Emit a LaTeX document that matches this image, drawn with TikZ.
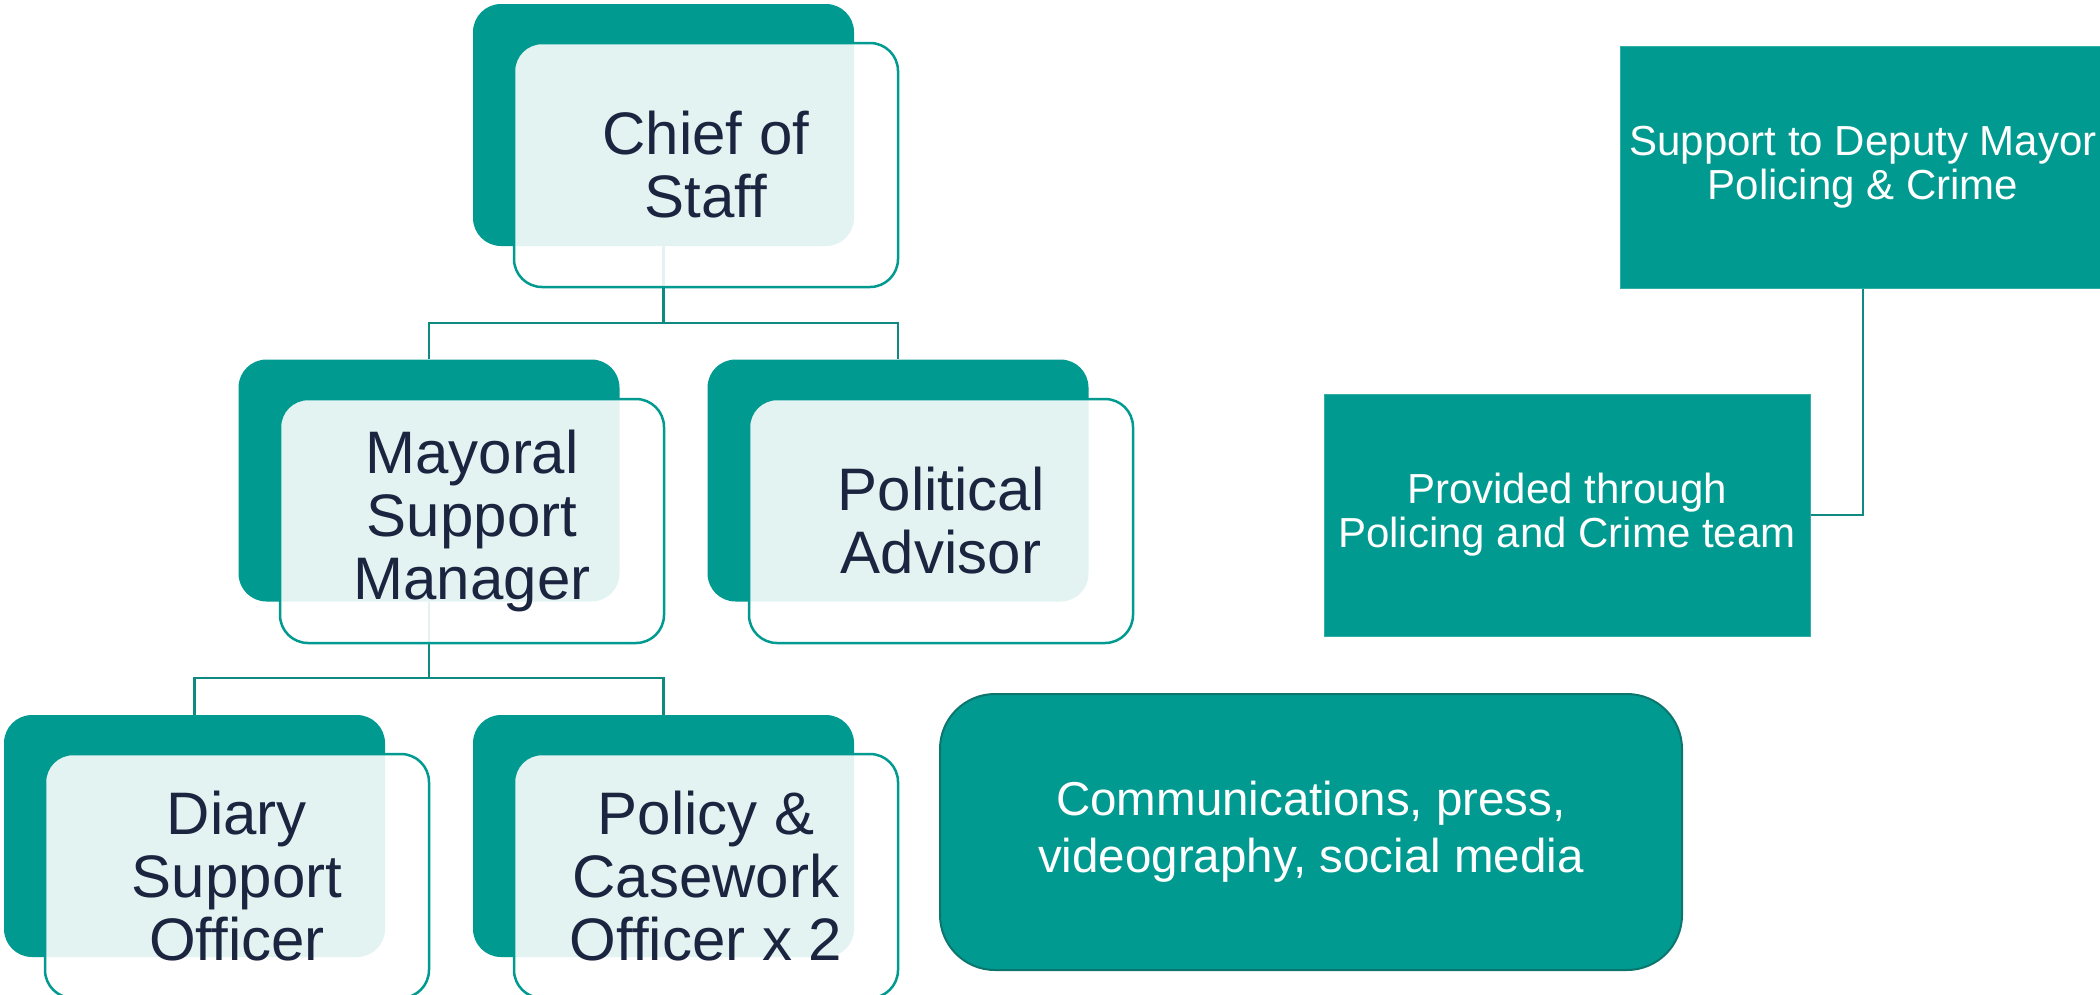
\documentclass[tikz,border=0pt]{standalone}
\usepackage{fontspec}
\setmainfont{Liberation Sans}
\definecolor{teal1}{RGB}{0,154,144}
\definecolor{tealline}{RGB}{14,138,128}
\definecolor{tealdark}{RGB}{12,118,110}
\definecolor{navy}{RGB}{27,37,64}
\begin{document}
\begin{tikzpicture}[x=1pt,y=-1pt,
  backbox/.style={rectangle,rounded corners=28pt,fill=teal1,minimum width=381pt,minimum height=242pt,inner sep=0pt},
  frontbox/.style={rectangle,rounded corners=28pt,draw=teal1,line width=2.5pt,fill=white,fill opacity=0.89,text opacity=1,
     text=navy,minimum width=384pt,minimum height=244pt,inner sep=0pt,align=center,font=\fontsize{60}{63}\selectfont},
  squarebox/.style={rectangle,fill=teal1,draw=teal1!80!white,line width=1pt,minimum width=486pt,minimum height=242pt,inner sep=0pt,
     text=white,align=center,font=\fontsize{42}{44}\selectfont},
  commbox/.style={rectangle,rounded corners=55pt,fill=teal1,draw=tealdark,line width=2pt,minimum width=742pt,minimum height=276pt,
     inner sep=0pt,text=white,align=center,font=\fontsize{47.5}{57}\selectfont},
  conn/.style={draw=tealline,line width=2.5pt}]
\useasboundingbox (0,0) rectangle (2100,994);
% back boxes
\node[backbox] (cosb) at (663.5,125) {};
\node[backbox] (msmb) at (429,480.5) {};
\node[backbox] (pab) at (898,480.5) {};
\node[backbox] (dsob) at (194.5,836) {};
\node[backbox] (pcob) at (663.5,836) {};
% junctions
\coordinate (j1) at (663.5,323);
\coordinate (j2) at (429,678);
% connectors
\draw[conn] (cosb.south) -- (j1);
\draw[conn] (j1) -| (msmb.north);
\draw[conn] (j1) -| (pab.north);
\draw[conn] (msmb.south) -- (j2);
\draw[conn] (j2) -| (dsob.north);
\draw[conn] (j2) -| (pcob.north);
% front boxes
\node[frontbox] (cos) at (706,165) {Chief of\\Staff};
\node[frontbox] (msm) at (472,521) {Mayoral\\Support\\Manager};
\node[frontbox] (pa) at (941,521) {Political\\Advisor};
\node[frontbox] (dso) at (237,876) {Diary\\Support\\Officer};
\node[frontbox] (pco) at (706,876) {Policy \&\\Casework\\Officer x 2};
% right side
\node[squarebox] (sup) at (1863,167) {Support to Deputy Mayor\\Policing \& Crime};
\node[squarebox] (prov) at (1567,515) {\raisebox{-3pt}{\parbox{480pt}{\centering Provided through\\Policing and Crime team}}};
\draw[conn] (sup.south) |- (prov.east);
\node[commbox] (comm) at (1311,832) {\raisebox{-5pt}{\parbox{700pt}{\centering Communications, press,\\videography, social media}}};
\end{tikzpicture}
\end{document}
